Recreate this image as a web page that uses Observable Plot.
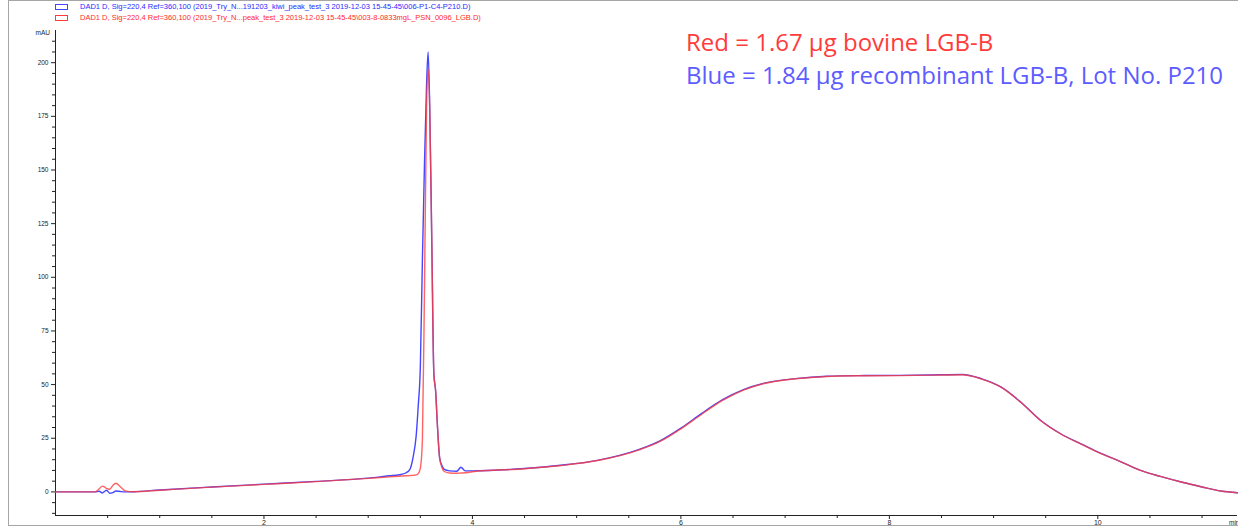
<!DOCTYPE html>
<html>
<head>
<meta charset="utf-8">
<script src="https://cdn.jsdelivr.net/npm/d3@7"></script>
<script src="https://cdn.jsdelivr.net/npm/@observablehq/plot@0.6"></script>
<style>
  html, body { margin: 0; padding: 0; background: #fff; }
  #wrap { position: relative; width: 1238px; height: 529px; overflow: hidden; }
  #frame { position: absolute; left: 8px; top: 0px; width: 1240px; height: 526px; border: 1px solid #a6a6a6; box-sizing: border-box; pointer-events: none; }
  #legend { position: absolute; left: 55px; top: 1px; font-family: Arial, "Liberation Sans", sans-serif; font-size: 7.5px; line-height: 11px; }
  #legend .row { display: flex; align-items: center; white-space: nowrap; }
  #legend .sw { width: 11px; height: 4px; border: 1px solid; margin-right: 12px; }
  #note { position: absolute; left: 686px; top: 25px; font-family: "Open Sans", sans-serif; font-size: 24px; line-height: 33px; white-space: nowrap; }
  #chart { position: absolute; left: 0; top: 0; }
</style>
</head>
<body>
<div id="wrap">
  <div id="chart"></div>
  <div id="frame"></div>
  <div id="legend"></div>
  <div id="note"></div>
</div>
<script>
// ---- data (retention time in min, absorbance in mAU) ----
const time = [0, 0.38, 0.42, 0.45, 0.47, 0.49, 0.52, 0.55, 0.58, 0.62, 0.67, 0.75, 1.0, 1.5, 2.0, 2.5, 3.0, 3.2, 3.3, 3.36, 3.4, 3.43, 3.46, 3.48, 3.5, 3.52, 3.54, 3.56, 3.575, 3.59, 3.61, 3.63, 3.647, 3.663, 3.685, 3.71, 3.73, 3.78, 3.85, 3.89, 3.93, 4.0, 4.5, 4.85, 5.2, 5.6, 5.8, 6.0, 6.2, 6.4, 6.6, 6.8, 7.1, 7.4, 7.7, 8.1, 8.4, 8.7, 8.88, 9.07, 9.26, 9.45, 9.64, 9.85, 10.03, 10.2, 10.41, 10.6, 10.8, 11.0, 11.18, 11.34];

const redValues = [0, 0, 1.5, 2.7, 2.3, 1.6, 1.2, 3.0, 4.0, 2.5, 0.5, 0.1, 0.8, 2.2, 3.5, 4.8, 6.3, 7.0, 7.3, 7.5, 7.6, 7.7, 7.9, 8.5, 11, 24, 95, 179, 197, 179, 117, 55, 47, 32, 16, 11, 9.5, 8.8, 8.7, 8.8, 8.9, 9.4, 10.8, 12.3, 14.6, 19.6, 23.5, 29.4, 36.2, 42.6, 47.4, 50.5, 52.7, 53.8, 54.1, 54.2, 54.4, 54.6, 52.7, 48.8, 41.8, 33.3, 27.1, 22, 17.8, 14.5, 10, 7.2, 4.6, 2.3, 0.4, -0.4];

const blueValues = [0, 0, 0.3, -0.5, 0.2, 0.8, -0.6, -0.3, 0.4, 0.2, 0, 0.1, 0.9, 2.3, 3.6, 4.9, 6.4, 7.5, 8.0, 8.8, 10.5, 16, 26, 40, 58, 108, 153, 190, 205, 180, 117, 55, 47, 32, 16, 12, 10.5, 9.8, 9.6, 11.5, 9.8, 9.8, 10.9, 12.4, 14.7, 19.8, 23.8, 29.7, 36.6, 43.0, 47.7, 50.7, 52.8, 53.9, 54.2, 54.3, 54.5, 54.7, 52.8, 48.9, 41.9, 33.4, 27.2, 22.1, 17.9, 14.5, 10, 7.2, 4.6, 2.3, 0.4, -0.4];

const xMajorTicks = [2, 4, 6, 8, 10];
const xMinorTicks = [0.5, 1, 1.5, 2.5, 3, 3.5, 4.5, 5, 5.5, 6.5, 7, 7.5, 8.5, 9, 9.5, 10.5, 11];
const yMajorTicks = [0, 25, 50, 75, 100, 125, 150, 175, 200];
const yMinorTicks = [-10, -5, 5, 10, 15, 20, 30, 35, 40, 45, 55, 60, 65, 70, 80, 85, 90, 95, 105, 110, 115, 120, 130, 135, 140, 145, 155, 160, 165, 170, 180, 185, 190, 195, 205, 210];

const legendLabels = [
  "DAD1 D, Sig=220,4 Ref=360,100 (2019_Try_N...191203_kiwi_peak_test_3 2019-12-03 15-45-45\\006-P1-C4-P210.D)",
  "DAD1 D, Sig=220,4 Ref=360,100 (2019_Try_N...peak_test_3 2019-12-03 15-45-45\\003-8-0833mgL_PSN_0096_LGB.D)"
];
const noteLabels = ["Red = 1.67 µg bovine LGB-B", "Blue = 1.84 µg recombinant LGB-B, Lot No. P210"];
const seriesColors = ["#4646ff", "#ff3c3c"];
const noteColors = ["#ff3b3b", "#5c5cff"];

// ---- build tables ----
const blueData = time.map((t, i) => ({t, v: blueValues[i]}));
const redData = time.map((t, i) => ({t, v: redValues[i]}));
const blank = () => "";

const plot = Plot.plot({
  width: 1238,
  height: 529,
  marginLeft: 55,
  marginRight: 1,
  marginTop: 30,
  marginBottom: 14,
  style: {fontFamily: "Arial, 'Liberation Sans', sans-serif", color: "#222", background: "transparent"},
  x: {domain: [0, 11.34]},
  y: {domain: [-11, 215]},
  marks: [
    Plot.axisX({ticks: xMajorTicks, tickSize: 4, tickPadding: 1, fontSize: 7, label: null, tickFormat: d => d}),
    Plot.axisX({ticks: xMinorTicks, tickSize: 3, tickFormat: blank, label: null}),
    Plot.axisY({ticks: yMajorTicks, tickSize: 4, tickPadding: 3, fontSize: 6.5, label: null, tickFormat: d => d}),
    Plot.axisY({ticks: yMinorTicks, tickSize: 3, tickFormat: blank, label: null}),
    Plot.ruleX([0], {stroke: "#222"}),
    Plot.ruleY([-11], {stroke: "#222"}),
    Plot.text(["mAU"], {frameAnchor: "top-left", dx: -20, dy: 0, fontSize: 6.5, text: d => d}),
    Plot.text(["min"], {frameAnchor: "bottom-right", dx: 2, dy: 9, fontSize: 6.5, textAnchor: "end", text: d => d}),
    Plot.line(blueData, {x: "t", y: "v", stroke: seriesColors[0], strokeWidth: 1.4, curve: "monotone-x"}),
    Plot.line(redData, {x: "t", y: "v", stroke: seriesColors[1], strokeWidth: 1.4, strokeOpacity: 0.8, curve: "monotone-x"})
  ]
});
document.getElementById("chart").appendChild(plot);

// legend
const legend = document.getElementById("legend");
legendLabels.forEach((lab, i) => {
  const row = document.createElement("div");
  row.className = "row";
  const sw = document.createElement("span");
  sw.className = "sw";
  sw.style.borderColor = seriesColors[i];
  const tx = document.createElement("span");
  tx.textContent = lab;
  tx.style.color = i === 0 ? "#2a2aff" : "#ff2a2a";
  row.appendChild(sw);
  row.appendChild(tx);
  legend.appendChild(row);
});

// annotation
const note = document.getElementById("note");
noteLabels.forEach((lab, i) => {
  const d = document.createElement("div");
  d.textContent = lab;
  d.style.color = noteColors[i];
  note.appendChild(d);
});
</script>
</body>
</html>
